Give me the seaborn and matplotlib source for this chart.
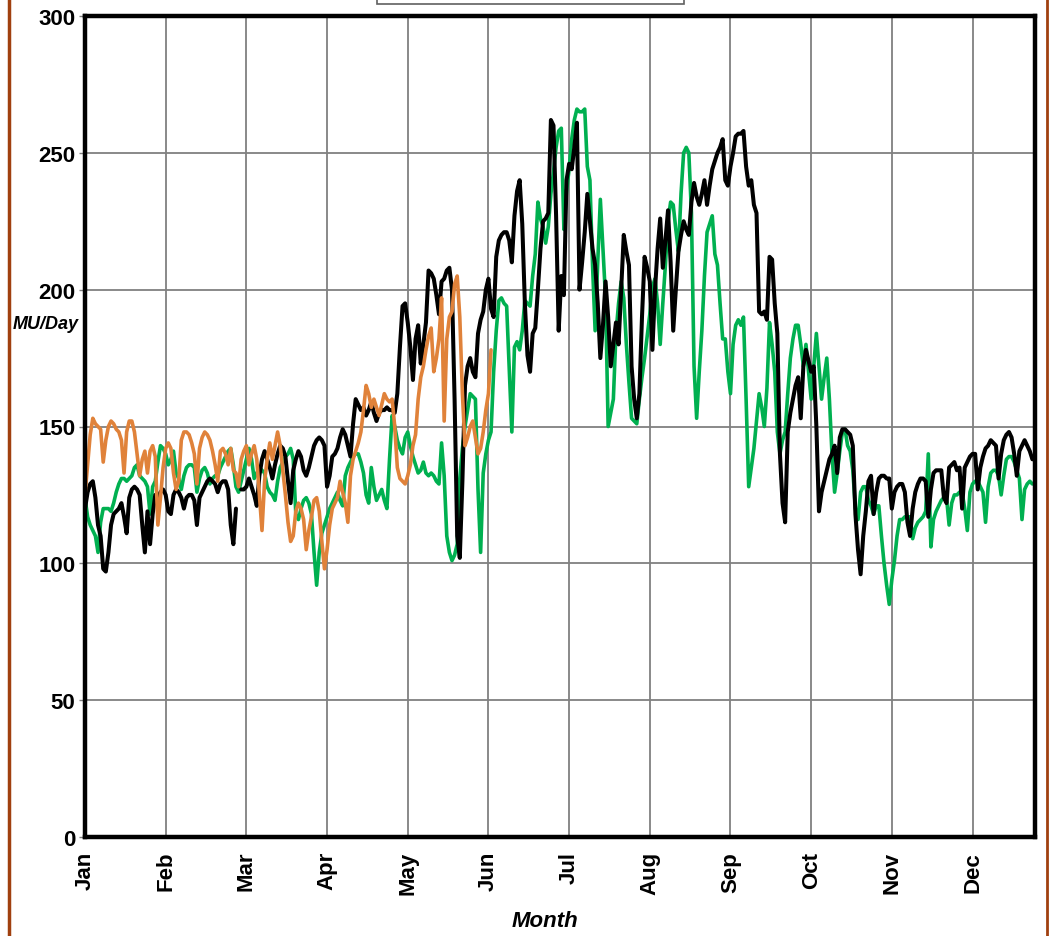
import numpy as np
import pandas as pd
import matplotlib
matplotlib.use("Agg")
import matplotlib.pyplot as plt
import seaborn as sns
from matplotlib import font_manager
from matplotlib.lines import Line2D
from matplotlib.patches import Rectangle

# Daily MU/Day values, day 0 = 1 Jan
black_vals = [
    # Jan
    120, 126, 129, 130, 124, 114, 110, 98, 97, 104, 114, 118, 119, 120, 122, 117,
    111, 124, 127, 128, 127, 125, 114, 104, 119, 107, 118, 125, 124, 126, 127,
    # Feb
    125, 119, 118, 125, 127, 126, 124, 120, 124, 125, 125, 123, 114, 124, 126, 128,
    130, 131, 130, 129, 126, 129, 130, 130, 127, 114, 107, 120,
    None,
    # Mar
    127, 127, 128, 131, 128, 125, 121, 132, 138, 141, 138, 135, 131, 136, 140, 143,
    142, 139, 130, 122, 134, 138, 141, 139, 134, 132, 135, 139, 143, 145,
    # Apr
    146, 145, 143, 128, 132, 139, 140, 142, 146, 149, 147, 143, 139, 151, 160, 158,
    156, 157, 154, 156, 159, 155, 152, 155, 156, 156, 157, 156, 156, 155,
    # May
    162, 179, 194, 195, 188, 179, 167, 182, 187, 173, 180, 188, 207, 206, 204, 198,
    191, 203, 204, 207, 208, 200, 160, 110, 102, 130, 165, 172, 175, 170, 168,
    # Jun
    184, 189, 192, 200, 204, 193, 190, 212, 218, 220, 221, 221, 218, 210, 227, 236,
    240, 224, 195, 176, 170, 184, 186, 200, 215, 225, 226, 228, 262, 260,
    # Jul
    227, 185, 205, 198, 240, 246, 244, 252, 261, 200, 210, 221, 235, 225, 215, 209,
    195, 175, 187, 203, 190, 172, 180, 188, 180, 200, 220, 214, 209, 172, 160,
    # Aug
    153, 162, 190, 212, 208, 203, 178, 200, 215, 226, 208, 218, 229, 210, 185, 200,
    214, 220, 225, 222, 220, 232, 239, 234, 231, 235, 240, 231, 238, 244, 247,
    # Sep
    250, 252, 255, 240, 238, 245, 250, 256, 257, 257, 258, 245, 238, 240, 231, 228,
    192, 191, 192, 189, 212, 211, 195, 184, 140, 122, 115, 148, 155, 160,
    # Oct
    165, 168, 153, 172, 178, 174, 170, 172, 150, 119, 126, 130, 134, 138, 140, 143,
    133, 146, 149, 149, 148, 147, 143, 118, 105, 96, 110, 119, 130, 132, 118,
    # Nov
    126, 131, 132, 132, 131, 131, 120, 126, 128, 129, 129, 126, 115, 110, 120, 126,
    129, 131, 131, 130, 117, 127, 133, 134, 134, 134, 124, 122, 135, 136,
    # Dec
    137, 134, 135, 120, 135, 137, 139, 140, 140, 127, 135, 139, 142, 143, 145, 144,
    143, 131, 140, 145, 147, 148, 146, 140, 132, 141, 143, 145, 143, 141, 138,
]

green_vals = [
    # Jan
    124, 117, 114, 112, 110, 104, 115, 120, 120, 120, 119, 122, 126, 129, 131, 131,
    130, 131, 132, 135, 136, 132, 131, 130, 128, 118, 128, 130, 137, 143, 142,
    # Feb
    140, 136, 138, 141, 133, 131, 127, 132, 135, 136, 136, 135, 126, 131, 134, 135,
    133, 129, 131, 132, 132, 135, 137, 139, 141, 142, 136, 128,
    # Mar
    126, 130, 134, 138, 142, 138, 131, 133, 135, 134, 133, 128, 126, 125, 123, 130,
    135, 137, 139, 140, 142, 138, 118, 116, 120, 123, 124, 122, 118, 104, 92,
    # Apr
    104, 111, 114, 117, 120, 122, 124, 126, 123, 121, 132, 135, 137, 139, 140, 140,
    137, 133, 125, 122, 135, 128, 123, 125, 127, 123, 120, 138, 154, 150,
    # May
    145, 142, 140, 146, 148, 143, 139, 136, 133, 134, 137, 133, 132, 133, 132, 130,
    129, 144, 132, 110, 104, 101, 103, 107, 131, 142, 150, 156, 162, 161, 160,
    # Jun
    127, 104, 133, 140, 145, 148, 170, 185, 196, 197, 195, 194, 171, 148, 179, 181,
    178, 185, 196, 195, 194, 205, 213, 232, 226, 223, 217, 223, 235, 243,
    # Jul
    252, 258, 259, 222, 236, 244, 255, 262, 266, 265, 265, 266, 245, 240, 209, 185,
    210, 233, 215, 197, 150, 155, 160, 184, 195, 203, 197, 180, 166, 153, 152,
    # Aug
    151, 160, 168, 175, 183, 191, 201, 204, 195, 180, 195, 209, 225, 232, 231, 222,
    214, 235, 250, 252, 250, 228, 172, 153, 170, 185, 205, 221, 224, 227, 213,
    # Sep
    209, 195, 182, 182, 170, 162, 180, 187, 189, 187, 190, 160, 128, 135, 142, 152,
    162, 157, 150, 164, 188, 180, 170, 148, 140, 145, 148, 162, 175, 182,
    # Oct
    187, 187, 180, 172, 180, 170, 160, 172, 184, 172, 160, 168, 175, 160, 140, 126,
    133, 141, 148, 149, 143, 141, 134, 120, 116, 126, 128, 128, 123, 121, 118,
    # Nov
    121, 121, 110, 100, 92, 85, 94, 101, 110, 116, 116, 117, 117, 117, 109, 113,
    115, 116, 117, 119, 140, 106, 116, 119, 121, 123, 124, 124, 114, 122,
    # Dec
    125, 125, 126, 126, 120, 112, 126, 129, 130, 130, 128, 126, 115, 128, 133, 134,
    134, 132, 125, 132, 138, 139, 139, 137, 134, 131, 116, 127, 129, 130, 129,
]

orange_vals = [
    # Jan
    125, 136, 147, 153, 151, 150, 149, 137, 145, 150, 152, 151, 149, 148, 145, 133,
    148, 152, 152, 148, 140, 132, 138, 141, 133, 141, 143, 139, 114, 124, 135,
    # Feb
    142, 144, 142, 133, 127, 130, 145, 148, 148, 147, 144, 140, 129, 142, 146, 148,
    147, 145, 141, 136, 130, 141, 142, 140, 136, 142, 134, 133,
    # Mar
    128, 138, 141, 143, 136, 140, 143, 138, 125, 112, 130, 138, 144, 138, 143, 148,
    143, 134, 125, 115, 108, 110, 119, 122, 120, 116, 105, 112, 117, 123, 124,
    # Apr
    119, 108, 98, 105, 114, 120, 122, 124, 130, 126, 122, 115, 132, 138, 141, 144,
    148, 156, 165, 162, 157, 160, 157, 154, 158, 162, 160, 159, 160, 150,
    # May
    135, 131, 130, 129, 132, 136, 143, 147, 160, 168, 172, 178, 183, 186, 170, 175,
    182, 197, 152, 182, 190, 192, 202, 205, 190, 162, 143, 146, 150, 152, 146,
    # Jun
    140, 142, 148, 156, 162, 178,
]

month_labels = ["Jan", "Feb", "Mar", "Apr", "May", "Jun",
                "Jul", "Aug", "Sep", "Oct", "Nov", "Dec"]
y_ticks = [0, 50, 100, 150, 200, 250, 300]

# build frames
black = pd.DataFrame({"day": np.arange(len(black_vals)),
                      "mu": pd.to_numeric(pd.Series(black_vals), errors="coerce")})
green = pd.DataFrame({"day": np.arange(len(green_vals)), "mu": green_vals})
orange = pd.DataFrame({"day": np.arange(len(orange_vals)), "mu": orange_vals})
gap = black["mu"].isna().idxmax()
black_a = black.iloc[:gap]
black_b = black.iloc[gap + 1:]

sns.set_theme(style="whitegrid")
names = {f.name for f in font_manager.fontManager.ttflist}
narrow = "Liberation Sans Narrow" if "Liberation Sans Narrow" in names else "Liberation Sans"
plt.rcParams["font.family"] = ["Liberation Sans", "DejaVu Sans"]

fig = plt.figure(figsize=(10.52, 9.37), dpi=100)
ax = fig.add_axes([85 / 1052, 1 - 838 / 937, 950 / 1052, 821 / 937])
ax.set_facecolor("white")

sns.lineplot(data=green, x="day", y="mu", color="#00B050", linewidth=2.6, ax=ax)
sns.lineplot(data=black_a, x="day", y="mu", color="black", linewidth=2.9, ax=ax)
sns.lineplot(data=black_b, x="day", y="mu", color="black", linewidth=2.9, ax=ax)
sns.lineplot(data=orange, x="day", y="mu", color="#E0823A", linewidth=2.6, ax=ax)

ax.set_xlim(0, 365)
ax.set_ylim(0, 300)
ax.set_xticks([31 * i for i in range(12)])
ax.set_xticklabels(month_labels, rotation=90, fontsize=16, fontweight="bold",
                   color="black")
ax.set_yticks(y_ticks)
ax.set_yticklabels([str(v) for v in y_ticks], fontsize=16, fontweight="bold",
                   family=narrow, color="black")
ax.grid(True, color="#808080", linewidth=1.3)
ax.tick_params(axis="y", length=4, width=1, color="#808080", pad=3, left=True)
ax.tick_params(axis="x", length=0, pad=10)
for s in ax.spines.values():
    s.set_visible(True)
    s.set_color("black")
    s.set_linewidth(3.2)
ax.set_xlabel("")
ax.set_ylabel("")

fig.text(545 / 1052, 1 - 922 / 937, "Month", fontsize=16, fontweight="bold",
         style="italic", family=narrow, color="black", ha="center", va="center")
fig.text(46 / 1052, 1 - 325 / 937, "MU/Day", fontsize=13, fontweight="bold",
         style="italic", family=narrow, color="black", ha="center", va="center")

# page borders and the clipped legend box at the top
fig.add_artist(Line2D([9 / 1052, 9 / 1052], [0, 1], color="#A0400F", linewidth=2.5))
fig.add_artist(Line2D([1047 / 1052, 1047 / 1052], [0, 1], color="#A0400F", linewidth=2))
fig.add_artist(Rectangle((377 / 1052, 1 - 5 / 937), 307 / 1052, 0.05,
                         transform=fig.transFigure, facecolor="white",
                         edgecolor="#606060", linewidth=1.2))

fig.savefig("out.png", dpi=100)
